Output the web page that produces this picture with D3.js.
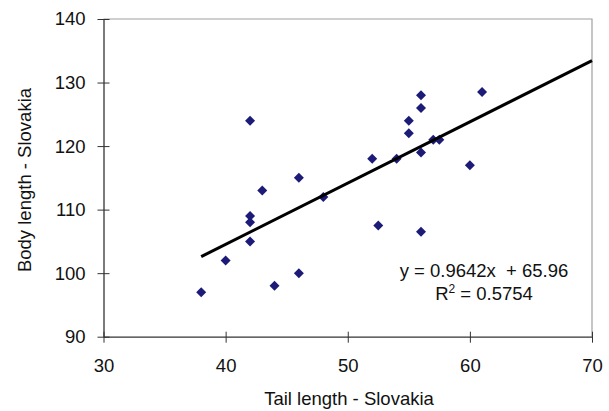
<!DOCTYPE html>
<html><head><meta charset="utf-8">
<script src="https://cdn.jsdelivr.net/npm/d3@7"></script>
<style>body{margin:0;background:#fff;}svg{display:block;font-family:"Liberation Sans",Arial,sans-serif;}</style>
</head><body><svg id="c" width="609" height="411"></svg>
<script>
const tailLength = [38,40,42,42,42,42,43,44,46,46,48,52,52.5,54,55,55,56,56,56,56,57,57.5,60,61];
const bodyLength = [97,102,124,109,108,105,113,98,115,100,112,118,107.5,118,124,122,128,126,119,106.5,121,121,117,128.5];
const xTicks = [30,40,50,60,70];
const yTicks = [90,100,110,120,130,140];
const slope = 0.9642, intercept = 65.96;
const trendRange = [38,70];
const eqText = "y = 0.9642x  + 65.96";
const r2Value = "0.5754";
const xTitle = "Tail length - Slovakia";
const yTitle = "Body length - Slovakia";

const FS = 18.5;
const svg = d3.select("#c");
const x = d3.scaleLinear().domain([30,70]).range([103.5,592]);
const y = d3.scaleLinear().domain([90,140]).range([336.7,19]);

// top/right border
svg.append("path").attr("d",`M${x(30)},${y(140)}H${x(70)}V${y(90)}`)
  .attr("fill","none").attr("stroke","#a0a0a0").attr("stroke-width",1.2);

const xAxis = svg.append("g").attr("transform",`translate(0,${y(90)})`)
  .call(d3.axisBottom(x).tickValues(xTicks).tickSize(0).tickPadding(22).tickFormat(d3.format("d")));
xAxis.selectAll(".tick").append("line").attr("y1",-5).attr("y2",6).attr("stroke","#333");
const yAxis = svg.append("g").attr("transform",`translate(${x(30)},0)`)
  .call(d3.axisLeft(y).tickValues(yTicks).tickSize(0).tickPadding(18).tickFormat(d3.format("d")));
yAxis.selectAll(".tick").append("line").attr("x1",-6).attr("x2",6).attr("stroke","#333");
[xAxis,yAxis].forEach(a=>{
  a.select(".domain").attr("stroke","#333").attr("stroke-width",1.3);
  a.selectAll("text").attr("font-size",FS).attr("fill","#111").attr("font-family","Liberation Sans, Arial, sans-serif");
});

// points
svg.append("g").selectAll("path").data(tailLength.map((t,i)=>[t,bodyLength[i]])).join("path")
  .attr("d",d3.symbol(d3.symbolSquare,50)())
  .attr("transform",d=>`translate(${x(d[0])},${y(d[1])}) rotate(45)`)
  .attr("fill","#1c1c78");

// trendline
svg.append("line")
  .attr("x1",x(trendRange[0])).attr("y1",y(slope*trendRange[0]+intercept))
  .attr("x2",x(trendRange[1])).attr("y2",y(slope*trendRange[1]+intercept))
  .attr("stroke","#000").attr("stroke-width",3);

// equation
svg.append("text").attr("x",484).attr("y",277).attr("text-anchor","middle")
  .attr("font-size",FS).attr("fill","#111").style("white-space","pre").text(eqText);
const r2 = svg.append("text").attr("x",484).attr("y",300).attr("text-anchor","middle")
  .attr("font-size",FS).attr("fill","#111");
r2.append("tspan").text("R");
r2.append("tspan").attr("font-size",12).attr("dy",-7).text("2");
r2.append("tspan").attr("dy",7).text(" = " + r2Value);

// titles
svg.append("text").attr("x",349).attr("y",405).attr("text-anchor","middle")
  .attr("font-size",FS).attr("fill","#111").text(xTitle);
svg.append("text").attr("transform",`translate(31,180) rotate(-90)`).attr("text-anchor","middle")
  .attr("font-size",FS).attr("fill","#111").text(yTitle);
</script></body></html>
